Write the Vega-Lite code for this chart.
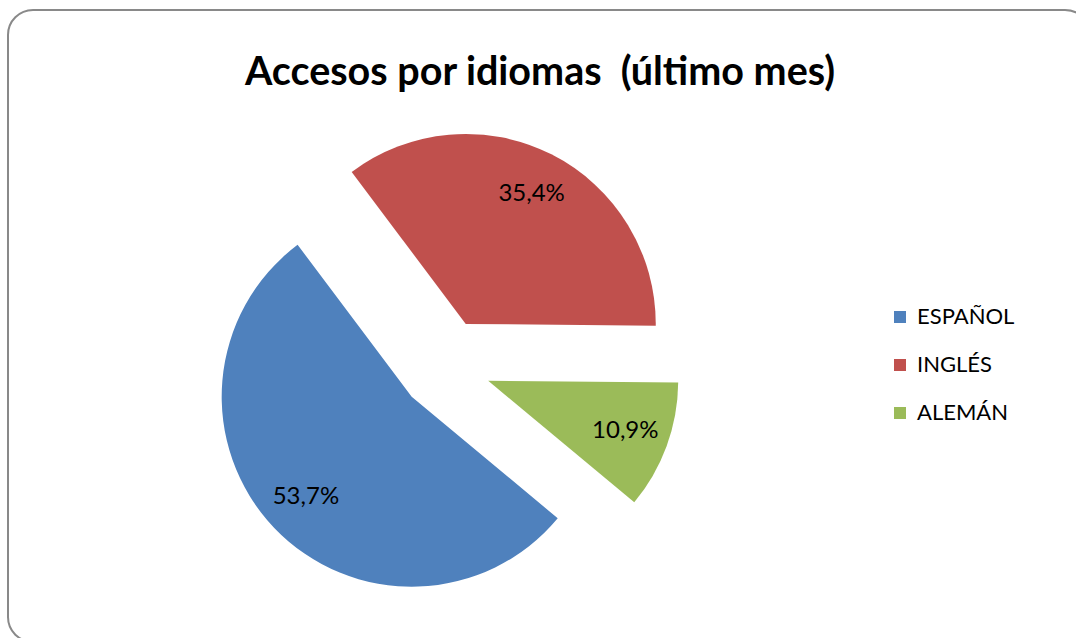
{
  "$schema": "https://vega.github.io/schema/vega-lite/v6.json",
  "width": 1082,
  "height": 632,
  "autosize": {"type": "none"},
  "padding": {"left": 8, "top": 10, "right": 0, "bottom": 0},
  "background": "white",
  "title": {
    "text": "Accesos por idiomas \u00a0(último mes)",
    "anchor": "middle",
    "frame": "group",
    "offset": -84,
    "dx": -9,
    "fontSize": 39.5,
    "font": "Lato",
    "fontWeight": "bold",
    "color": "black"
  },
  "layer": [
    {
      "data": {"values": [{"marco": 1}]},
      "mark": {"type": "rect", "fill": null, "stroke": "#898989", "strokeWidth": 2, "cornerRadius": 25},
      "encoding": {}
    },
    {
      "data": {
        "name": "idiomas",
        "values": [
          {"idioma": "ESPAÑOL", "valor": 0.537, "orden": 1},
          {"idioma": "INGLÉS", "valor": 0.354, "orden": 2},
          {"idioma": "ALEMÁN", "valor": 0.109, "orden": 3}
        ]
      },
      "encoding": {
        "theta": {"field": "valor", "type": "quantitative", "stack": true, "scale": {"range": [2.265, 8.548]}},
        "order": {"field": "orden", "type": "quantitative"}
      },
      "layer": [
        {
          "mark": {
            "type": "arc",
            "outerRadius": 190,
            "x": {"expr": "width*0.4039 + 46*sin(scale('theta', (datum.valor_start + datum.valor_end)/2))"},
            "y": {"expr": "height*0.5617 - 46*cos(scale('theta', (datum.valor_start + datum.valor_end)/2))"}
          },
          "encoding": {
            "color": {
              "field": "idioma",
              "type": "nominal",
              "scale": {"domain": ["ESPAÑOL", "INGLÉS", "ALEMÁN"], "range": ["#4F81BD", "#C0504D", "#9BBB59"]},
              "legend": {
                "orient": "none",
                "legendX": 881,
                "legendY": 296,
                "title": null,
                "symbolType": "square",
                "symbolSize": 144,
                "symbolStrokeWidth": 0,
                "symbolOpacity": 1,
                "labelFontSize": 22,
                "labelFont": "Lato",
                "labelColor": "black",
                "rowPadding": 26,
                "labelOffset": 6,
                "padding": 0
              }
            }
          }
        },
        {
          "mark": {
            "type": "text",
            "radius": 146,
            "fontSize": 24,
            "font": "Lato",
            "x": {"expr": "width*0.4039 + 46*sin(scale('theta', (datum.valor_start + datum.valor_end)/2))"},
            "y": {"expr": "height*0.5617 - 46*cos(scale('theta', (datum.valor_start + datum.valor_end)/2))"}
          },
          "encoding": {
            "text": {"field": "valor", "type": "quantitative", "format": ".1%"},
            "detail": {"field": "idioma", "type": "nominal"},
            "color": {"value": "black"}
          }
        }
      ]
    }
  ],
  "config": {
    "view": {"stroke": null},
    "locale": {"number": {"decimal": ",", "thousands": ".", "grouping": [3], "currency": ["", "\u00a0€"]}}
  }
}
